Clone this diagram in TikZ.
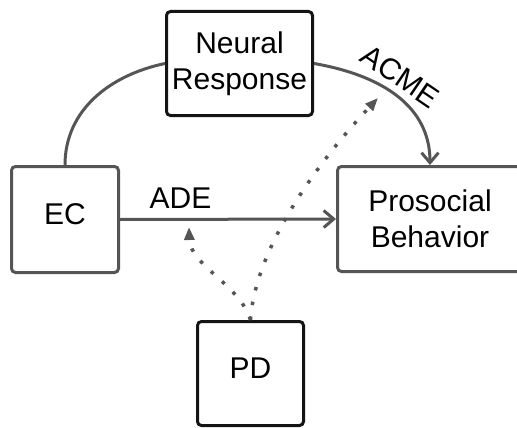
\documentclass[tikz,border=0pt]{standalone}
\usepackage{fontspec}
\setmainfont{Liberation Sans}
\usetikzlibrary{arrows.meta}
\definecolor{lnk}{RGB}{85,85,85}
\definecolor{edg}{RGB}{20,20,20}

\begin{document}
\begin{tikzpicture}[x=1pt, y=-1pt,
  box/.style={draw=edg, line width=3pt, rounded corners=4pt, align=center,
              inner sep=0pt, font=\fontsize{30}{35.5}\selectfont},
  graybox/.style={box, draw=lnk},
  link/.style={draw=lnk, line width=3pt},
  flow/.style={link, -{Straight Barb[length=10pt,width=17pt]}},
  dotflow/.style={draw=lnk, line width=3.5pt, dash pattern=on 3.5pt off 11.5pt,
                  -{Triangle[length=13pt,width=10pt]}},
  lbl/.style={font=\fontsize{30}{35.5}\selectfont, inner sep=0pt}
]
\useasboundingbox (0,0) rectangle (517,428);

\node[box, minimum width=146pt, minimum height=104pt] (neural) at (239.5,63.5)
  {Neural\\Response};
\node[graybox, minimum width=107pt, minimum height=106pt, text depth=10pt] (ec)
  at (65,219.5) {EC};
\node[graybox, minimum width=185pt, minimum height=105pt] (behavior) at (430,219)
  {Prosocial\\Behavior};
\node[box, minimum width=106pt, minimum height=104pt, text depth=10pt] (pd)
  at (250.5,373.5) {PD};

\coordinate (adetip) at (189,227);
\coordinate (acmetip) at (378,98);

\draw[link] (ec.north) .. controls (65,110) and (110,75) .. (neural.west);
\draw[flow] (neural.east) .. controls (380,75) and (430,105) .. (behavior.north)
  node[lbl, pos=0.45, sloped, above=6pt] {ACME};
\draw[flow] (ec.east) -- (behavior.west)
  node[lbl, pos=0.28, above=9pt] {ADE};
\draw[dotflow] (pd.north) .. controls (240,285) and (190,265) .. (adetip);
\draw[dotflow] (pd.north) .. controls (255,250) and (315,165) .. (acmetip);
\end{tikzpicture}
\end{document}
